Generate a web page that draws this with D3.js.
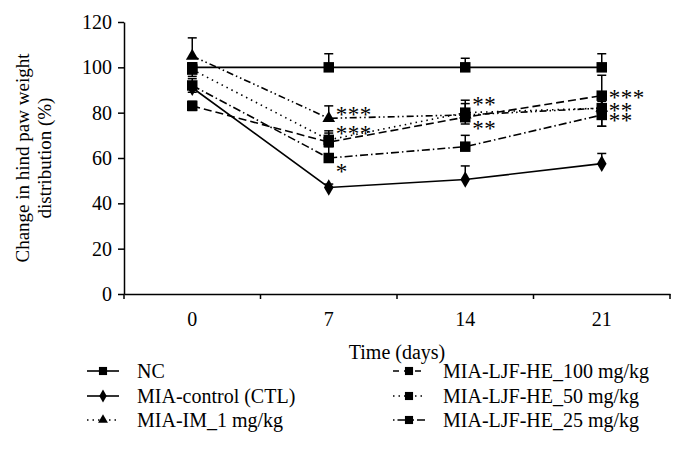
<!DOCTYPE html>
<html>
<head>
<meta charset="utf-8">
<script src="https://cdn.jsdelivr.net/npm/d3@7"></script>
<style>
  body { margin: 0; background: #fff; }
  text { font-family: "Liberation Serif", "DejaVu Serif", serif; fill: #000; }
</style>
</head>
<body>
<svg id="chart" width="684" height="476"></svg>
<script>
// days on the x axis
var days = ["0", "7", "14", "21"];
var yTicks = [0, 20, 40, 60, 80, 100, 120];

// group means and error bars
var ncVals   = [100, 100, 100, 100];
var ncUp     = [2, 6, 4, 6];
var ncDown   = [0, 0, 0, 0];
var ctlVals  = [91, 47, 50.5, 57.5];
var ctlUp    = [2, 1.5, 6, 4.5];
var ctlDown  = [0, 0, 0, 0];
var imVals   = [105, 77.5, 79, 82];
var imUp     = [8, 5.5, 6.5, 4];
var imDown   = [0, 0, 0, 0];
var he100Vals = [83, 67, 78, 87.5];
var he100Up   = [2, 4, 3, 9];
var he100Down = [2, 0, 3, 0];
var he50Vals  = [99, 68, 80, 82];
var he50Up    = [3, 4, 4, 3];
var he50Down  = [3, 0, 0, 8];
var he25Vals  = [92, 60, 65, 79];
var he25Up    = [3, 5, 5, 3];
var he25Down  = [3, 0, 0, 5];

// significance marks: day, value, text
var starDays  = ["7", "7", "7", "14", "14", "21", "21", "21"];
var starVals  = [81, 73, 56, 85.5, 75, 88.5, 83, 78.5];
var starTexts = ["***", "***", "*", "**", "**", "***", "**", "**"];

var series = [
    {name: "NC", vals: ncVals, up: ncUp, down: ncDown, sym: d3.symbolSquare, size: 110, dash: null, legDash: null},
    {name: "MIA-control (CTL)", vals: ctlVals, up: ctlUp, down: ctlDown, sym: d3.symbolDiamond, size: 80, dash: null, legDash: null},
    {name: "MIA-IM_1 mg/kg", vals: imVals, up: imUp, down: imDown, sym: d3.symbolTriangle, size: 70, dash: "7,3,1.5,3,1.5,3", legDash: "1.5,4"},
    {name: "MIA-LJF-HE_100 mg/kg", vals: he100Vals, up: he100Up, down: he100Down, sym: d3.symbolSquare, size: 110, dash: "8,4", legDash: "6,5"},
    {name: "MIA-LJF-HE_50 mg/kg", vals: he50Vals, up: he50Up, down: he50Down, sym: d3.symbolSquare, size: 110, dash: "1.5,4", legDash: "1.5,4"},
    {name: "MIA-LJF-HE_25 mg/kg", vals: he25Vals, up: he25Up, down: he25Down, sym: d3.symbolSquare, size: 110, dash: "8,3,1.5,3", legDash: "1.5,3,12,3"}
];

var svg = d3.select("#chart");
var plotLeft = 124, plotRight = 670, plotTop = 22, plotBottom = 294;

var x = d3.scaleBand().domain(days).range([plotLeft, plotRight]).padding(0);
var y = d3.scaleLinear().domain([0, 120]).range([plotBottom, plotTop]);
var cx = function(d) { return x(d) + x.bandwidth() / 2; };

// y axis
var yAxis = svg.append("g")
    .attr("transform", "translate(" + plotLeft + ",0)")
    .call(d3.axisLeft(y).tickValues(yTicks).tickSize(6).tickPadding(6).tickSizeOuter(0));
yAxis.select(".domain").attr("stroke", "#000").attr("stroke-width", 1.5);
yAxis.selectAll(".tick line").attr("stroke-width", 1.5);
yAxis.selectAll("text").style("font-size", "20px").attr("font-family", null);

// x axis: labels at band centres, tick marks on band edges
var xAxis = svg.append("g")
    .attr("transform", "translate(0," + plotBottom + ")")
    .call(d3.axisBottom(x).tickSize(0).tickPadding(18).tickSizeOuter(0));
xAxis.select(".domain").attr("stroke", "#000").attr("stroke-width", 1.5);
xAxis.selectAll("text").style("font-size", "20px").attr("font-family", null);
var edges = days.map(function(d) { return x(d); }).concat([plotRight]);
xAxis.selectAll(".edge").data(edges).enter().append("line")
    .attr("x1", function(d) { return d; }).attr("x2", function(d) { return d; })
    .attr("y1", 0).attr("y2", 5)
    .attr("stroke", "#000").attr("stroke-width", 1.5);

// axis titles
svg.append("text")
    .attr("x", (plotLeft + plotRight) / 2).attr("y", 359)
    .attr("text-anchor", "middle").style("font-size", "20px")
    .text("Time (days)");
var yt = svg.append("text")
    .attr("transform", "translate(29," + ((plotTop + plotBottom) / 2) + ") rotate(-90)")
    .attr("text-anchor", "middle").style("font-size", "19px");
yt.append("tspan").attr("x", 0).attr("dy", 0).text("Change in hind paw weight");
yt.append("tspan").attr("x", 0).attr("dy", 22).text("distribution (%)");

var line = d3.line()
    .x(function(d) { return cx(d.day); })
    .y(function(d) { return y(d.v); });

series.forEach(function(s) {
    var pts = days.map(function(d, i) {
        return {day: d, v: s.vals[i], up: s.up[i], down: s.down[i]};
    });
    var g = svg.append("g");
    g.append("path").datum(pts)
        .attr("d", line)
        .attr("fill", "none").attr("stroke", "#000").attr("stroke-width", 1.6)
        .attr("stroke-dasharray", s.dash);

    // error bars
    pts.forEach(function(p) {
        var xc = cx(p.day);
        [[p.up, 1], [p.down, -1]].forEach(function(e) {
            if (e[0] <= 0) return;
            var yEnd = y(p.v + e[1] * e[0]);
            g.append("line").attr("x1", xc).attr("x2", xc)
                .attr("y1", y(p.v)).attr("y2", yEnd)
                .attr("stroke", "#000").attr("stroke-width", 1.5);
            g.append("line").attr("x1", xc - 4.5).attr("x2", xc + 4.5)
                .attr("y1", yEnd).attr("y2", yEnd)
                .attr("stroke", "#000").attr("stroke-width", 1.5);
        });
    });

    g.selectAll(".m").data(pts).enter().append("path")
        .attr("transform", function(p) { return "translate(" + cx(p.day) + "," + y(p.v) + ")"; })
        .attr("d", d3.symbol().type(s.sym).size(s.size))
        .attr("fill", "#000");
});

// asterisks
svg.selectAll(".star").data(starTexts).enter().append("text")
    .attr("x", function(d, i) { return cx(starDays[i]) + 7; })
    .attr("y", function(d, i) { return y(starVals[i]) + 12; })
    .style("font-size", "23px").style("letter-spacing", "0.5px")
    .text(function(d) { return d; });

// legend, two columns of three
var legRows = [371, 396, 420];
series.forEach(function(s, i) {
    var col = Math.floor(i / 3), row = i % 3;
    var x0 = col === 0 ? 87 : 393;
    var ly = legRows[row];
    var lg = svg.append("g");
    lg.append("line").attr("x1", x0).attr("x2", x0 + 32)
        .attr("y1", ly).attr("y2", ly)
        .attr("stroke", "#000").attr("stroke-width", 1.6)
        .attr("stroke-dasharray", s.legDash);
    lg.append("path")
        .attr("transform", "translate(" + (x0 + 16) + "," + ly + ")")
        .attr("d", d3.symbol().type(s.sym).size(s.size * 0.6))
        .attr("fill", "#000");
    lg.append("text").attr("x", x0 + 50).attr("y", ly + 7)
        .style("font-size", "20px").text(s.name);
});
</script>
</body>
</html>
